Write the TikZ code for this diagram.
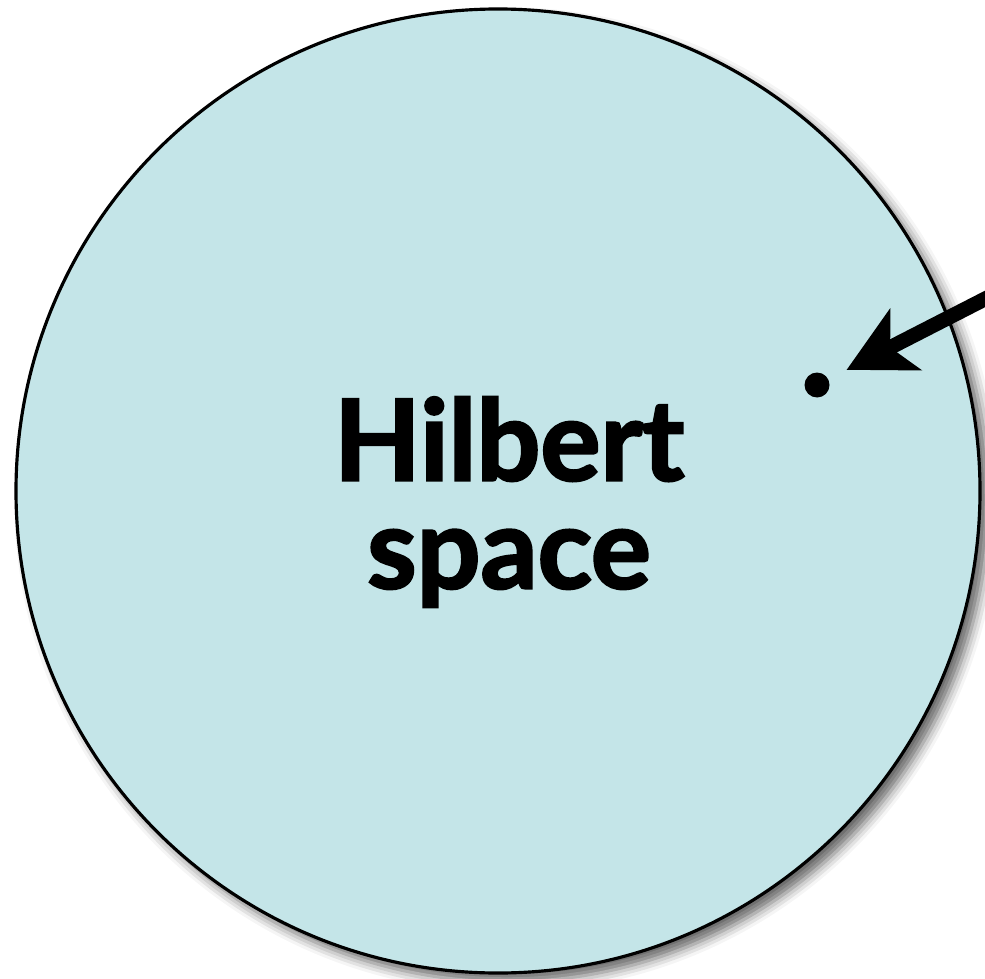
\documentclass[tikz,border=0pt]{standalone}
\usepackage{fontspec}
\setsansfont{Lato}[BoldFeatures={FakeBold=2.2}]
\usetikzlibrary{arrows.meta,shadows.blur}
\definecolor{hilbertfill}{RGB}{196,229,232}

\begin{document}
\begin{tikzpicture}[scale=1.0]
  % Page size of the reference.
  \useasboundingbox (0,0) rectangle (9.85,9.78);
  \clip (0,0) rectangle (9.85,9.78);
  % The space itself, with a soft shadow.
  \node[circle, draw=black, line width=0.9pt, fill=hilbertfill,
        minimum size=9.64cm, inner sep=0pt,
        blur shadow={shadow xshift=2.5pt, shadow yshift=-2.5pt,
                     shadow blur radius=3pt, shadow opacity=60}]
    (space) at (4.98,4.87) {};
  % Label.
  \node[align=center, font=\sffamily\bfseries\fontsize{32}{30.7}\selectfont]
    (label) at (5.09,4.76) {Hilbert\\space};
  % A single state.
  \node[circle, fill=black, minimum size=0.25cm, inner sep=0pt]
    (state) at (8.17,5.93) {};
  \coordinate (tail) at (10.2,6.97);
  % Pointer.
  \draw[-{Stealth[length=0.66cm, width=0.68cm, inset=0.17cm]},
        line width=4.2pt, shorten >=0.2cm] (tail) -- (state);
\end{tikzpicture}
\end{document}
